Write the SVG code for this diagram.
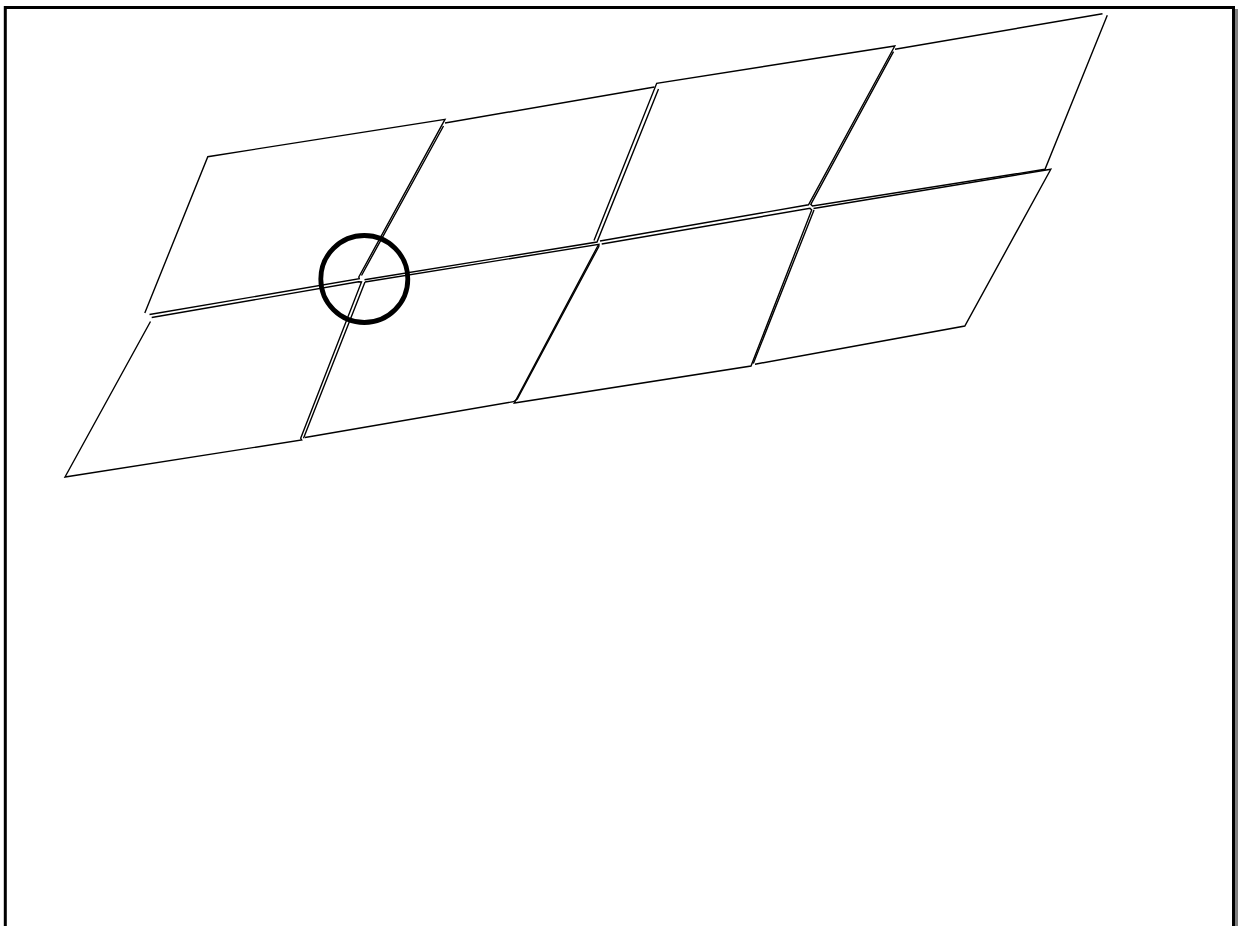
<svg xmlns="http://www.w3.org/2000/svg" width="1238" height="926" viewBox="0 0 1238 926">
<style>
.c{fill:none;stroke:#000;stroke-width:1.4;stroke-linejoin:miter}
</style>
<rect width="1238" height="926" fill="#fff"/>
<path d="M5.300 926V7.500H1233.500V926" fill="none" stroke="#000" stroke-width="3"/>
<path d="M1236.500 9V926" fill="none" stroke="#808080" stroke-width="3"/>
<g id="cell-a"><path class="c" d="M144.800 313L207.800 156.700L445 119.300L358.800 277L359.300 278.800L149.500 314.500"/></g>
<g id="cell-b"><path class="c" d="M445 123L654.500 87M658.500 89L597 242L364.500 279.800M361.500 275.500L443.500 126"/></g>
<g id="cell-c"><path class="c" d="M594 240.500L656.700 83.300L894.800 46L808.500 204.800L600 241"/></g>
<g id="cell-d"><path class="c" d="M895 49.300L1102.500 13.700M1107.300 15.300L1045 169.300L812.500 206L810.800 204.300L893.500 51.700"/></g>
<g id="cell-e"><path class="c" d="M151.700 317.500L358.500 281.800L361.500 282L300.700 438.300L301.700 440L65 477L150.500 321.500"/></g>
<g id="cell-f"><path class="c" d="M365 282L599 244.300L598.800 246.500L517.300 399L513.500 401.700L305 437.500M303.500 438.300L365 282"/></g>
<g id="cell-g"><path class="c" d="M601.700 244L810 208.300L811.700 210L751 366L514.300 403L598.300 245"/></g>
<g id="cell-h"><path class="c" d="M813.500 208.500L1050.800 169.300L964.800 326L755 364.200M753.300 363.500L814 210"/></g>
<circle id="marker" cx="364.300" cy="279" r="43.500" fill="none" stroke="#000" stroke-width="4.800"/>
</svg>
